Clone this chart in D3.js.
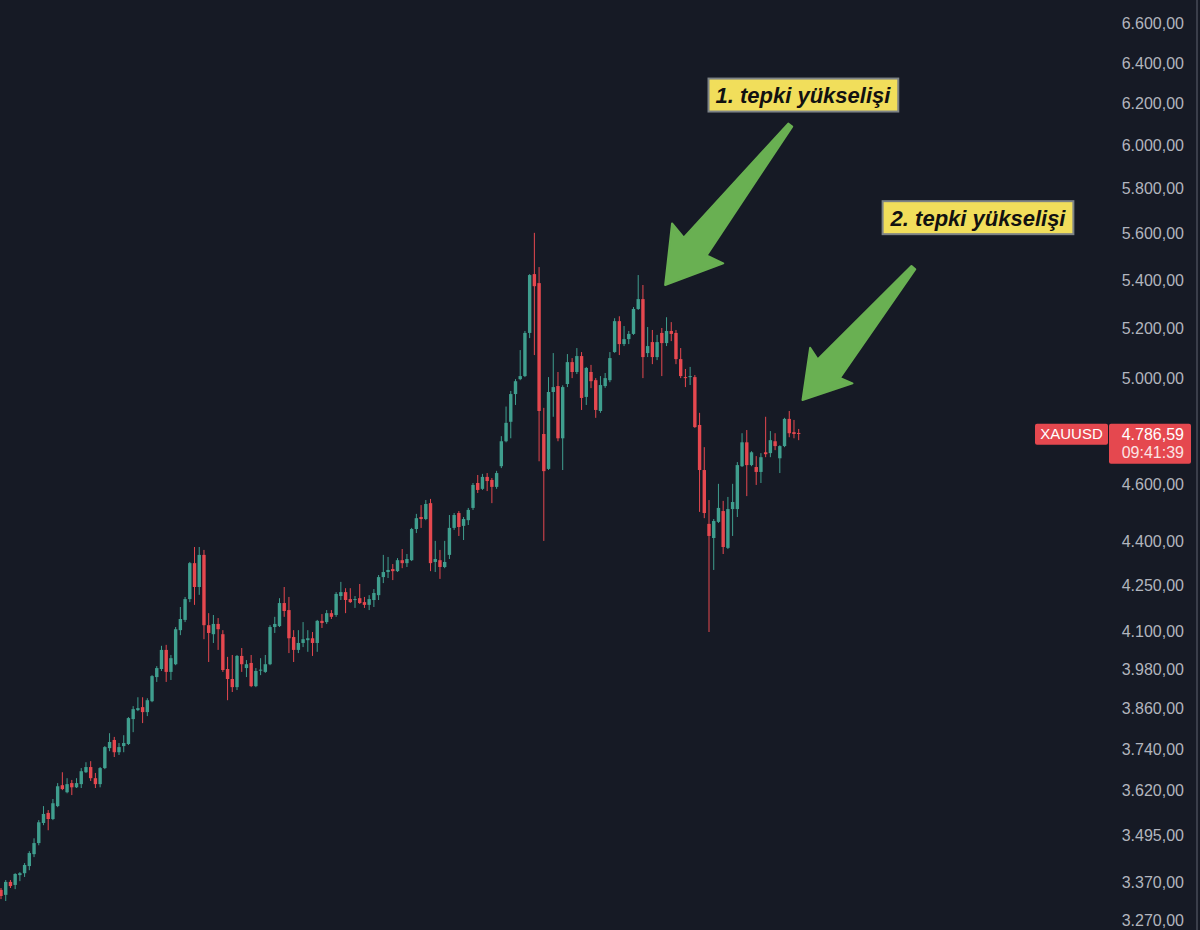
<!DOCTYPE html>
<html>
<head>
<meta charset="utf-8">
<script src="https://cdn.jsdelivr.net/npm/d3@7"></script>
<style>
  html, body { margin: 0; padding: 0; background: #161a25; }
  svg { display: block; }
  .tick text { fill: #b2b5be; font-family: "Liberation Sans", Arial, sans-serif; font-size: 16px; }
</style>
</head>
<body>
<div id="chart"></div>
<script>
// XAUUSD daily candles --------------------------------------------------------

const open = [
  3348, 3335, 3369, 3361, 3387, 3392, 3411, 3443, 3473, 3528,
  3556, 3539, 3575, 3634, 3614, 3640, 3628, 3637, 3671, 3686,
  3654, 3637, 3683, 3741, 3765, 3729, 3747, 3753, 3827, 3854,
  3863, 3848, 3881, 3955, 3980, 4040, 3971, 3995, 4103, 4136,
  4204, 4324, 4244, 4352, 4119, 4090, 4123, 4090, 3980, 3949,
  3924, 4021, 3983, 3999, 3927, 3977, 3971, 3995, 4113, 4116,
  4191, 4168, 4081, 4040, 4062, 4071, 4077, 4062, 4133, 4129,
  4158, 4152, 4214, 4227, 4204, 4201, 4207, 4194, 4185, 4201,
  4217, 4277, 4294, 4304, 4297, 4334, 4324, 4334, 4441, 4483,
  4476, 4532, 4328, 4334, 4311, 4352, 4445, 4497, 4452, 4472,
  4515, 4604, 4583, 4626, 4615, 4590, 4665, 4757, 4830, 4936,
  4994, 5006, 5178, 5422, 5384, 4784, 4655, 4944, 4967, 4768,
  4975, 5061, 5022, 5085, 4925, 5022, 4990, 4871, 4967, 4990,
  5101, 5226, 5133, 5153, 5174, 5276, 5317, 5097, 5141, 5081,
  5178, 5137, 5186, 5178, 5073, 5002, 5002, 5002, 4818, 4651,
  4459, 4410, 4466, 4504, 4376, 4511, 4511, 4665, 4753, 4669,
  4662, 4644, 4716, 4713, 4757, 4694, 4739, 4841, 4791, 4788
];

const high = [
  3353, 3374, 3374, 3392, 3395, 3419, 3451, 3486, 3536, 3575,
  3564, 3595, 3640, 3671, 3654, 3649, 3654, 3683, 3700, 3703,
  3669, 3686, 3747, 3785, 3774, 3756, 3779, 3833, 3866, 3893,
  3893, 3890, 3961, 3989, 4053, 4056, 4024, 4113, 4178, 4211,
  4328, 4379, 4379, 4369, 4158, 4152, 4142, 4103, 4018, 4024,
  4024, 4046, 4008, 4024, 3983, 4014, 4024, 4119, 4146, 4207,
  4244, 4211, 4103, 4103, 4129, 4103, 4097, 4136, 4155, 4168,
  4168, 4227, 4261, 4240, 4240, 4214, 4254, 4211, 4217, 4237,
  4284, 4352, 4345, 4321, 4341, 4372, 4355, 4445, 4494, 4525,
  4543, 4547, 4400, 4369, 4400, 4490, 4497, 4504, 4483, 4515,
  4604, 4633, 4637, 4640, 4622, 4648, 4776, 4888, 4948, 4994,
  5109, 5186, 5422, 5600, 5452, 4883, 5002, 5097, 5022, 4970,
  5093, 5077, 5117, 5101, 5042, 5050, 4998, 5006, 5018, 5101,
  5238, 5246, 5206, 5186, 5284, 5418, 5376, 5202, 5190, 5170,
  5198, 5242, 5222, 5190, 5117, 5034, 5042, 5010, 4864, 4735,
  4543, 4476, 4601, 4540, 4554, 4601, 4680, 4787, 4799, 4720,
  4702, 4713, 4849, 4795, 4787, 4742, 4845, 4871, 4837, 4803
];

const low = [
  3324, 3319, 3353, 3350, 3371, 3382, 3400, 3435, 3467, 3522,
  3508, 3536, 3572, 3620, 3611, 3606, 3626, 3626, 3669, 3646,
  3626, 3628, 3680, 3732, 3715, 3721, 3729, 3750, 3788, 3851,
  3815, 3836, 3878, 3940, 3974, 3940, 3946, 3992, 4087, 4129,
  4194, 4185, 4218, 4074, 4002, 4062, 4040, 3971, 3884, 3909,
  3915, 3971, 3955, 3924, 3924, 3961, 3968, 3992, 4094, 4113,
  4146, 4030, 4002, 4030, 4049, 4034, 4021, 4034, 4110, 4123,
  4139, 4146, 4201, 4158, 4191, 4175, 4188, 4175, 4168, 4178,
  4201, 4257, 4274, 4267, 4294, 4307, 4311, 4331, 4427, 4445,
  4472, 4297, 4294, 4271, 4307, 4338, 4438, 4417, 4403, 4455,
  4508, 4568, 4579, 4575, 4532, 4583, 4658, 4753, 4768, 4894,
  4990, 5002, 5157, 5089, 4683, 4400, 4651, 4849, 4757, 4651,
  4963, 4998, 5014, 4875, 4894, 4959, 4845, 4864, 4960, 4982,
  5098, 5089, 5125, 5133, 5170, 5272, 4998, 5081, 5053, 5069,
  5006, 5125, 5145, 5053, 4998, 4963, 4971, 4807, 4501, 4479,
  4097, 4301, 4462, 4355, 4372, 4417, 4483, 4662, 4557, 4665,
  4597, 4604, 4698, 4698, 4724, 4640, 4735, 4772, 4768, 4761
];

const close = [
  3332, 3369, 3358, 3390, 3392, 3414, 3446, 3473, 3530, 3553,
  3539, 3583, 3631, 3623, 3637, 3628, 3640, 3674, 3686, 3654,
  3637, 3683, 3744, 3759, 3729, 3744, 3756, 3830, 3857, 3860,
  3848, 3884, 3958, 3983, 4040, 3971, 4014, 4106, 4139, 4204,
  4324, 4244, 4352, 4119, 4094, 4123, 4106, 3977, 3949, 3924,
  4021, 3995, 3995, 3927, 3974, 3978, 3995, 4113, 4123, 4191,
  4165, 4077, 4040, 4062, 4074, 4077, 4062, 4133, 4126, 4158,
  4146, 4221, 4227, 4201, 4194, 4204, 4191, 4185, 4204, 4224,
  4277, 4294, 4301, 4297, 4334, 4324, 4338, 4441, 4479, 4476,
  4529, 4324, 4338, 4311, 4328, 4445, 4490, 4448, 4476, 4508,
  4597, 4579, 4626, 4611, 4590, 4640, 4757, 4826, 4936, 4986,
  5006, 5178, 5418, 5371, 4871, 4647, 4944, 4963, 4768, 4963,
  5061, 5022, 5085, 4921, 5038, 4986, 4875, 4971, 4998, 5077,
  5226, 5133, 5153, 5174, 5276, 5317, 5081, 5125, 5081, 5141,
  5137, 5186, 5174, 5073, 5006, 4998, 5006, 4810, 4651, 4497,
  4417, 4469, 4515, 4379, 4511, 4536, 4669, 4753, 4669, 4716,
  4644, 4698, 4709, 4761, 4739, 4739, 4841, 4787, 4784, 4786.59
];

// Price axis ticks (log scale); 4.800 sits under the last price label
const tickValues = [3270, 3370, 3495, 3620, 3740, 3860, 3980, 4100, 4250, 4400,
  4600, 5000, 5200, 5400, 5600, 5800, 6000, 6200, 6400, 6600];

const symbol = "XAUUSD";
const lastPrice = 4786.59;
const countdown = "09:41:39";

// Annotations: [bar index, price]
const noteTexts = ["1. tepki yükselişi", "2. tepki yükselişi"];
const noteAnchors = [[169.9, 6238], [207, 5667]];
const arrowTips = [[140.7, 5376], [169.8, 4913]];
const arrowTails = [[167.2, 6093], [193.3, 5450]];

// Setup ----------------------------------------------------------------------

const width = 1200;
const height = 930;
const upColor = "#3f9e8e";
const downColor = "#e5484f";

const trFormat = d3.formatLocale({
    decimal: ",", thousands: ".", grouping: [3], currency: ["", ""]
}).format(",.2f");

const candles = open.map((o, i) => ({
    i, o, h: high[i], l: low[i], c: close[i]
}));

const svg = d3.select("#chart")
    .append("svg")
    .attr("width", width)
    .attr("height", height);

svg.append("rect")
    .attr("width", width)
    .attr("height", height)
    .attr("fill", "#161a25");

// 235 bar slots across the plot, the rest of them are empty space
const x = d3.scaleLinear().domain([0, 234]).range([1, 1105.5]);
const y = d3.scaleLog().domain([3270, 6600]).range([920, 23]);
const bodyW = 3.4;

// Candles --------------------------------------------------------------------

const candle = svg.append("g")
    .selectAll("g")
    .data(candles)
    .enter()
    .append("g")
    .attr("fill", d => d.c >= d.o ? upColor : downColor)
    .attr("stroke", d => d.c >= d.o ? upColor : downColor);

candle.append("line")
    .attr("x1", d => x(d.i))
    .attr("x2", d => x(d.i))
    .attr("y1", d => y(d.h))
    .attr("y2", d => y(d.l))
    .attr("stroke-width", 1);

candle.append("rect")
    .attr("stroke", "none")
    .attr("x", d => x(d.i) - bodyW / 2)
    .attr("width", bodyW)
    .attr("y", d => y(Math.max(d.o, d.c)))
    .attr("height", d => Math.max(1, Math.abs(y(d.o) - y(d.c))));

// Price axis -----------------------------------------------------------------

const yAxis = d3.axisRight(y)
    .tickValues(tickValues)
    .tickFormat(trFormat)
    .tickSize(0);

const axisG = svg.append("g")
    .attr("transform", "translate(1184,0)")
    .call(yAxis);

axisG.select(".domain").remove();
axisG.selectAll("text")
    .attr("x", 0)
    .attr("dy", "0.36em")
    .style("text-anchor", "end");

svg.append("line")
    .attr("x1", 1197).attr("x2", 1197)
    .attr("y1", 0).attr("y2", height)
    .attr("stroke", "#3a3e4a")
    .attr("stroke-width", 2);

// Last price label -----------------------------------------------------------

const yp = y(lastPrice);
const priceG = svg.append("g")
    .style("font-family", "'Liberation Sans', Arial, sans-serif");

priceG.append("rect")
    .attr("x", 1035).attr("y", yp - 9.5)
    .attr("width", 73).attr("height", 21)
    .attr("rx", 2)
    .attr("fill", downColor);

priceG.append("text")
    .attr("x", 1071.5).attr("y", yp + 6)
    .attr("text-anchor", "middle")
    .attr("fill", "#ffffff")
    .style("font-size", "15px")
    .text(symbol);

priceG.append("rect")
    .attr("x", 1109).attr("y", yp - 9.5)
    .attr("width", 82).attr("height", 40)
    .attr("rx", 2)
    .attr("fill", downColor);

priceG.append("text")
    .attr("x", 1184).attr("y", yp + 6.5)
    .attr("text-anchor", "end")
    .attr("fill", "#ffffff")
    .style("font-size", "16px")
    .text(trFormat(lastPrice));

priceG.append("text")
    .attr("x", 1184).attr("y", yp + 24.5)
    .attr("text-anchor", "end")
    .attr("fill", "#fbe3e4")
    .style("font-size", "16px")
    .text(countdown);

// Annotations ----------------------------------------------------------------

function arrowPoints(tip, tail) {
    const px = x(tip[0]), py = y(tip[1]);
    const tx = x(tail[0]), ty = y(tail[1]);
    const len = Math.hypot(tx - px, ty - py);
    const ux = (tx - px) / len, uy = (ty - py) / len;
    const nx = -uy, ny = ux;
    const headLen = 0.26 * len;
    const headHalf = 0.16 * len;
    const shaftHalf = 14.5;
    const tailHalf = 2.5;
    const at = (a, b) => [px + ux * a + nx * b, py + uy * a + ny * b];
    return [
        [px, py],
        at(headLen, -headHalf),
        at(headLen - 4, -shaftHalf),
        [tx - nx * tailHalf, ty - ny * tailHalf],
        [tx + nx * tailHalf, ty + ny * tailHalf],
        at(headLen - 4, shaftHalf),
        at(headLen, headHalf)
    ];
}

svg.append("g")
    .selectAll("polygon")
    .data(arrowTips)
    .enter()
    .append("polygon")
    .attr("points", (d, i) => arrowPoints(d, arrowTails[i]).map(p => p.join(",")).join(" "))
    .attr("fill", "#69b052")
    .attr("stroke", "#69b052")
    .attr("stroke-width", 2)
    .attr("stroke-linejoin", "round");

const notes = svg.append("g")
    .selectAll("g")
    .data(noteTexts)
    .enter()
    .append("g");

notes.append("rect")
    .attr("fill", "#f1de5b")
    .attr("stroke", "#7d8386")
    .attr("stroke-width", 2);

notes.append("text")
    .attr("x", (d, i) => x(noteAnchors[i][0]))
    .attr("y", (d, i) => y(noteAnchors[i][1]) + 8)
    .attr("text-anchor", "middle")
    .attr("fill", "#111111")
    .style("font-family", "'Liberation Sans', Arial, sans-serif")
    .style("font-weight", "bold")
    .style("font-style", "italic")
    .style("font-size", "22px")
    .text(d => d);

notes.each(function(d, i) {
    const g = d3.select(this);
    const box = g.select("text").node().getBBox();
    const cy = y(noteAnchors[i][1]);
    g.select("rect")
        .attr("x", box.x - 7)
        .attr("width", box.width + 14)
        .attr("y", cy - 16.5)
        .attr("height", 33);
});
</script>
</body>
</html>
